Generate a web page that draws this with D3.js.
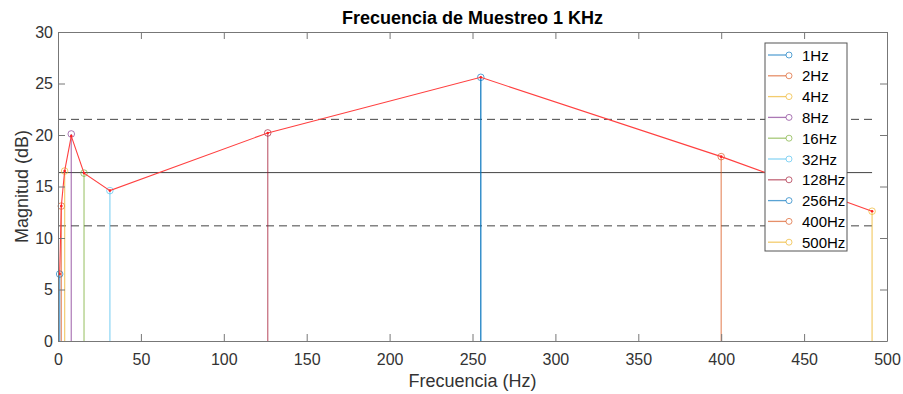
<!DOCTYPE html>
<html>
<head>
<meta charset="utf-8">
<script src="https://cdn.jsdelivr.net/npm/d3@7"></script>
<style>
body { margin: 0; background: #fff; }
text { font-family: "Liberation Sans", Arial, sans-serif; }
</style>
</head>
<body>
<svg width="903" height="394"></svg>
<script>
// datos
var labels = ["1Hz", "2Hz", "4Hz", "8Hz", "16Hz", "32Hz", "128Hz", "256Hz", "400Hz", "500Hz"];
var freqs = [1, 2, 4, 8, 15.7, 31.3, 126.5, 255, 400, 491];
var mags = [6.5, 13.1, 16.5, 20.1, 16.3, 14.6, 20.2, 25.6, 17.9, 12.6];
var lineMags = [6.5, 13.1, 16.5, 19.9, 16.3, 14.6, 20.2, 25.6, 17.9, 12.6];
var colors = ["#0072BD", "#D95319", "#EDB120", "#7E2F8E", "#77AC30", "#4DBEEE", "#A2142F", "#0072BD", "#D95319", "#EDB120"];
var xTicks = [0, 50, 100, 150, 200, 250, 300, 350, 400, 450, 500];
var yTicks = [0, 5, 10, 15, 20, 25, 30];
var media = 16.35, desv = 5.17;

var svg = d3.select("svg"),
	margin = {left: 58, right: 16, top: 32, bottom: 53},
	width = +svg.attr("width") - margin.left - margin.right,
	height = +svg.attr("height") - margin.top - margin.bottom,
	g = svg.append("g").attr("transform", "translate(" + margin.left + "," + margin.top + ")");

var x = d3.scaleLinear().domain([0, 500]).range([0, width]);
var y = d3.scaleLinear().domain([0, 30]).range([height, 0]);

// lineas de referencia
var xEnd = freqs[freqs.length - 1];
[[media, null], [media + desv, "8,5"], [media - desv, "8,5"]].forEach(function(r) {
	g.append("line")
		.attr("x1", x(0)).attr("x2", x(xEnd))
		.attr("y1", y(r[0])).attr("y2", y(r[0]))
		.attr("stroke", "#444").attr("stroke-width", 1)
		.attr("stroke-dasharray", r[1]);
});

// stems
var stems = g.selectAll(".stem")
	.data(freqs)
	.enter().append("g").attr("class", "stem");
stems.append("line")
	.attr("x1", function(d) { return x(d); })
	.attr("x2", function(d) { return x(d); })
	.attr("y1", y(0))
	.attr("y2", function(d, i) { return y(mags[i]); })
	.attr("stroke", function(d, i) { return colors[i]; })
	.attr("stroke-opacity", function(d, i) { return i == 7 ? 0.9 : 0.6; })
	.attr("stroke-width", 1.3);

// linea roja
var line = d3.line()
	.x(function(d, i) { return x(freqs[i]); })
	.y(function(d) { return y(d); });
g.append("path")
	.datum(lineMags)
	.attr("d", line)
	.attr("fill", "none")
	.attr("stroke", "#ff4040")
	.attr("stroke-width", 1.1);
g.selectAll(".dot")
	.data(lineMags)
	.enter().append("circle")
	.attr("cx", function(d, i) { return x(freqs[i]); })
	.attr("cy", function(d) { return y(d); })
	.attr("r", 1.3)
	.attr("fill", "#ff2020");

stems.append("circle")
	.attr("cx", function(d) { return x(d); })
	.attr("cy", function(d, i) { return y(mags[i]); })
	.attr("r", 3.3)
	.attr("fill", "none")
	.attr("stroke", function(d, i) { return colors[i]; })
	.attr("stroke-opacity", 0.65)
	.attr("stroke-width", 1);

// ejes (estilo matlab, ticks hacia dentro y caja)
var axisColor = "#333";
var xAxis = g.append("g").attr("transform", "translate(0," + height + ")")
	.call(d3.axisBottom(x).tickValues(xTicks).tickSizeInner(-7).tickSizeOuter(0).tickPadding(12.5));
var yAxis = g.append("g")
	.call(d3.axisLeft(y).tickValues(yTicks).tickSizeInner(-7).tickSizeOuter(0).tickPadding(5));
g.append("g").call(d3.axisTop(x).tickValues(xTicks).tickSizeInner(-7).tickSizeOuter(0).tickFormat(""));
g.append("g").attr("transform", "translate(" + width + ",0)")
	.call(d3.axisRight(y).tickValues(yTicks).tickSizeInner(-7).tickSizeOuter(0).tickFormat(""));
g.selectAll(".domain, .tick line").attr("stroke", "#777").attr("stroke-width", 1);
g.selectAll(".tick text").attr("fill", axisColor).style("font-size", "16px")
	.style("font-family", "'Liberation Sans', Arial, sans-serif");

// textos
svg.append("text")
	.attr("x", margin.left + width / 2).attr("y", 24)
	.attr("text-anchor", "middle")
	.style("font-size", "18px").style("font-weight", "bold")
	.attr("fill", "#000")
	.text("Frecuencia de Muestreo 1 KHz");
svg.append("text")
	.attr("x", margin.left + width / 2).attr("y", 387)
	.attr("text-anchor", "middle")
	.style("font-size", "18px").attr("fill", axisColor)
	.text("Frecuencia (Hz)");
svg.append("text")
	.attr("transform", "translate(28," + (margin.top + height / 2) + ") rotate(-90)")
	.attr("text-anchor", "middle")
	.style("font-size", "18px").attr("fill", axisColor)
	.text("Magnitud (dB)");

// leyenda
var leg = svg.append("g").attr("transform", "translate(765,43)");
leg.append("rect")
	.attr("width", 82).attr("height", 208)
	.attr("fill", "#fff").attr("stroke", "#555").attr("stroke-width", 1);
var item = leg.selectAll(".item")
	.data(labels)
	.enter().append("g")
	.attr("transform", function(d, i) { return "translate(0," + (12 + i * 20.8) + ")"; });
item.append("line")
	.attr("x1", 3).attr("x2", 24).attr("y1", 0).attr("y2", 0)
	.attr("stroke", function(d, i) { return colors[i]; })
	.attr("stroke-opacity", 0.65)
	.attr("stroke-width", 1.3);
item.append("circle")
	.attr("cx", 24).attr("cy", 0).attr("r", 3)
	.attr("fill", "#fff")
	.attr("stroke", function(d, i) { return colors[i]; })
	.attr("stroke-opacity", 0.65);
item.append("text")
	.attr("x", 37).attr("y", 5.5)
	.style("font-size", "15px").attr("fill", "#000")
	.text(function(d) { return d; });
</script>
</body>
</html>
